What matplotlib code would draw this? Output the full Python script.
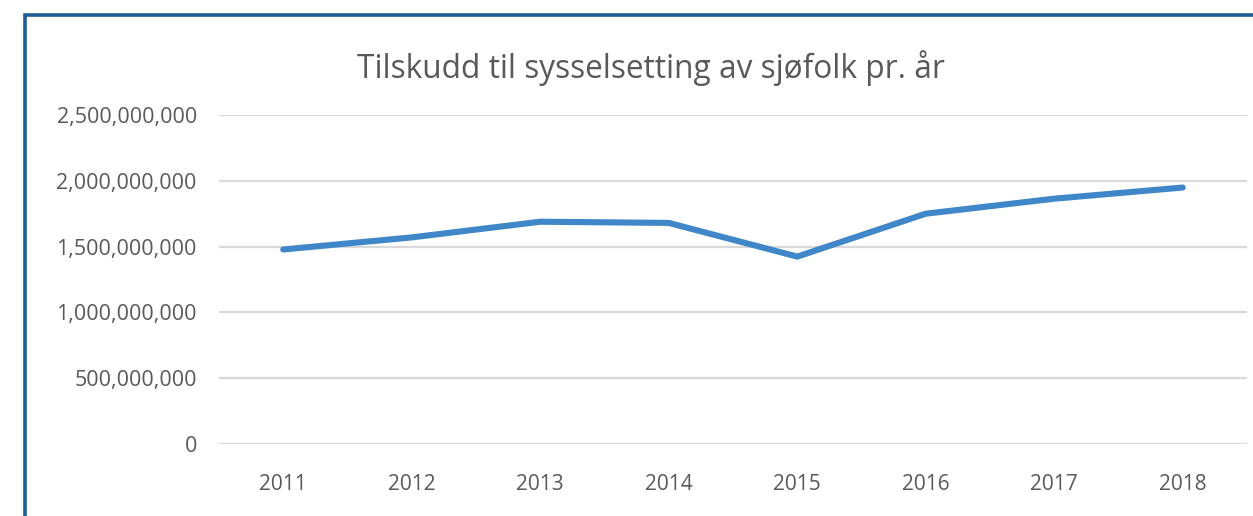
import matplotlib
matplotlib.use("Agg")
import matplotlib.pyplot as plt
from matplotlib.patches import Rectangle
from matplotlib.ticker import FuncFormatter

# Data
years = ["2011", "2012", "2013", "2014", "2015", "2016", "2017", "2018"]
tilskudd = [1478e6, 1570e6, 1689e6, 1680e6, 1424e6, 1750e6, 1864e6, 1949e6]
y_ticks = [0, 500e6, 1000e6, 1500e6, 2000e6, 2500e6]

W, H, DPI = 1253, 516, 100
TEXT = "#595959"

plt.rcParams["font.family"] = ["Open Sans", "DejaVu Sans"]

fig = plt.figure(figsize=(W / DPI, H / DPI), dpi=DPI)

# plot area in pixels: x 219..1247, y 115..444 (from top)
ax = fig.add_axes([219 / W, 1 - 444 / H, (1247 - 219) / W, (444 - 115) / H])
x = range(len(years))
ax.plot(x, tilskudd, color="#3f87c8", lw=4.4, solid_capstyle="round",
        solid_joinstyle="miter", zorder=3)

ax.set_xlim(-0.5, len(years) - 0.5)
ax.set_ylim(0, 2500e6)
ax.set_yticks(y_ticks)
ax.yaxis.set_major_formatter(FuncFormatter(lambda v, p: f"{int(v):,}"))
ax.set_xticks(list(x))
ax.set_xticklabels(years)
ax.grid(axis="y", color="#d9d9d9", lw=1.6)
ax.set_axisbelow(True)
for s in ax.spines.values():
    s.set_visible(False)
ax.tick_params(axis="y", length=0, labelsize=15.5, labelcolor=TEXT, pad=16)
ax.tick_params(axis="x", length=0, labelsize=15, labelcolor=TEXT, pad=21.5)

fig.text(651 / W, 1 - 68 / H, "Tilskudd til sysselsetting av sjøfolk pr. år",
         ha="center", va="center", fontsize=22.8, color=TEXT)

# chart frame (right and bottom cropped off)
fig.patches.append(Rectangle((25 / W, -0.1), 1.2, 1 - 15 / H + 0.1,
                             transform=fig.transFigure, fill=False,
                             edgecolor="#1f5d96", lw=2.6))

fig.savefig("out.png", dpi=DPI)
